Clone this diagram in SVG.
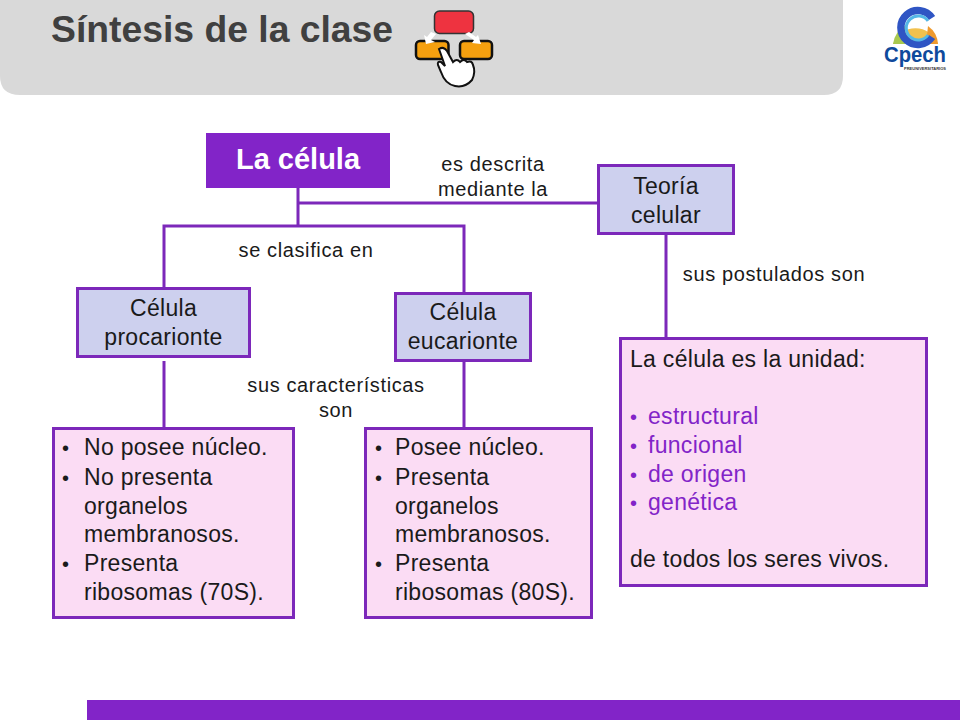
<svg xmlns="http://www.w3.org/2000/svg" width="960" height="720" viewBox="0 0 960 720">
<style>
text{font-family:"Liberation Sans",Arial,sans-serif;fill:#1a1a1a}
.n{fill:#cdd0ee;stroke:#7c28ba;stroke-width:3}
.p{fill:#fbdcf4;stroke:#7c28ba;stroke-width:3}
.c{fill:none;stroke:#7c28ba;stroke-width:3}
.t{font-size:23px;letter-spacing:.3px;text-anchor:middle}
.b{font-size:23px;letter-spacing:.3px}
.d{font-size:20px}
.l{font-size:20px;letter-spacing:.62px;text-anchor:middle}
.v{fill:#8224c8}
</style>
<rect x="0" y="0" width="960" height="720" fill="#fff"/>
<path d="M0 0H843V76Q843 95 824 95H20Q0 95 0 76Z" fill="#d9d9d9"/>
<text x="51" y="42" font-size="37.300" font-weight="bold" style="fill:#404040">Síntesis de la clase</text>
<g id="icon">
<rect x="434.500" y="11" width="39" height="22.500" rx="5" fill="#ee3340" stroke="#333" stroke-width="1.500"/>
<rect x="416" y="41" width="32.500" height="18" rx="4" fill="#f5a00f" stroke="#111" stroke-width="2.500"/>
<rect x="460" y="41" width="32" height="18" rx="4" fill="#f5a00f" stroke="#111" stroke-width="2.500"/>
<path d="M431 32L427 37L424 35L426 44L435 42L431 40L436 34ZM469 32L476 37L478 35L481 44L472 43L474 40L465 34Z" fill="#fff"/>
<path d="M439 49Q444 46 447 51L453 62Q457 58 460 62Q464 58 467 62Q472 60 473 65Q476 72 472 80Q465 88 455 86Q445 84 441 72L438 65Q437 61 441 62L445 66Z" fill="#fff" stroke="#111" stroke-width="2"/>
</g>
<g id="logo">
<path d="M893 44A24 24 0 0 1 938 44Z" fill="#f2c14e"/>
<path d="M893 44A24 24 0 0 1 905 26V44Z" fill="#a8c94f"/>
<path d="M928 26A24 24 0 0 1 938 44H926Z" fill="#ef9a2e"/>
<path d="M932 18A17 17 0 1 0 932 37" fill="none" stroke="#2f55c4" stroke-width="7.500"/>
<path d="M928 21A12 12 0 1 0 928 35" fill="none" stroke="#55b7e6" stroke-width="3"/>
<text x="884" y="62" font-size="22" font-weight="bold" textLength="62" lengthAdjust="spacingAndGlyphs" style="fill:#0f4a9c">Cpech</text>
<text x="904" y="70" font-size="3.500" font-weight="bold" textLength="42" lengthAdjust="spacingAndGlyphs" style="fill:#333">PREUNIVERSITARIOS</text>
</g>
<g id="connectors">
<path class="c" d="M298 188V226M298 203H598M164 288V226H464V293M164 361V428M464 361V428M666 234V338"/>
</g>
<g id="n1"><rect x="206" y="133" width="184" height="55" fill="#8224c8"/><text x="298" y="169" font-size="29" font-weight="bold" text-anchor="middle" style="fill:#fff">La célula</text></g>
<g id="n2"><rect class="n" x="598.500" y="165.500" width="135" height="68"/><text class="t" x="666" y="194">Teoría</text><text class="t" x="666" y="222.500">celular</text></g>
<g id="n3"><rect class="n" x="77.500" y="288.500" width="172" height="68"/><text class="t" x="163.500" y="316">Célula</text><text class="t" x="163.500" y="344.500">procarionte</text></g>
<g id="n4"><rect class="n" x="395.500" y="293.500" width="135" height="67"/><text class="t" x="463" y="320">Célula</text><text class="t" x="463" y="349">eucarionte</text></g>
<g id="n5"><rect class="p" x="53.500" y="428.500" width="240" height="189"/>
<text class="d" x="62" y="455">•</text><text class="b" x="84" y="455">No posee núcleo.</text>
<text class="d" x="62" y="485">•</text><text class="b" x="84" y="485">No presenta</text>
<text class="b" x="84" y="514">organelos</text>
<text class="b" x="84" y="542">membranosos.</text>
<text class="d" x="62" y="571">•</text><text class="b" x="84" y="571">Presenta</text>
<text class="b" x="84" y="600">ribosomas (70S).</text></g>
<g id="n6"><rect class="p" x="365.500" y="428.500" width="226" height="189"/>
<text class="d" x="375" y="455">•</text><text class="b" x="395" y="455">Posee núcleo.</text>
<text class="d" x="375" y="485">•</text><text class="b" x="395" y="485">Presenta</text>
<text class="b" x="395" y="514">organelos</text>
<text class="b" x="395" y="542">membranosos.</text>
<text class="d" x="375" y="571">•</text><text class="b" x="395" y="571">Presenta</text>
<text class="b" x="395" y="600">ribosomas (80S).</text></g>
<g id="n7"><rect class="p" x="620.500" y="338.500" width="306" height="247"/>
<text class="b" x="630" y="367">La célula es la unidad:</text>
<text class="d v" x="630" y="424">•</text><text class="b v" x="648" y="424">estructural</text>
<text class="d v" x="630" y="453">•</text><text class="b v" x="648" y="453">funcional</text>
<text class="d v" x="630" y="482">•</text><text class="b v" x="648" y="482">de origen</text>
<text class="d v" x="630" y="510">•</text><text class="b v" x="648" y="510">genética</text>
<text class="b" x="630" y="567">de todos los seres vivos.</text></g>
<g id="labels">
<text class="l" x="493" y="171">es descrita</text><text class="l" x="493" y="196">mediante la</text>
<text class="l" x="306" y="257">se clasifica en</text>
<text class="l" x="774" y="281">sus postulados son</text>
<text class="l" x="336" y="392">sus características</text><text class="l" x="336" y="417">son</text>
</g>
<rect id="footer" x="87" y="700" width="873" height="20" fill="#8224c8"/>
</svg>
